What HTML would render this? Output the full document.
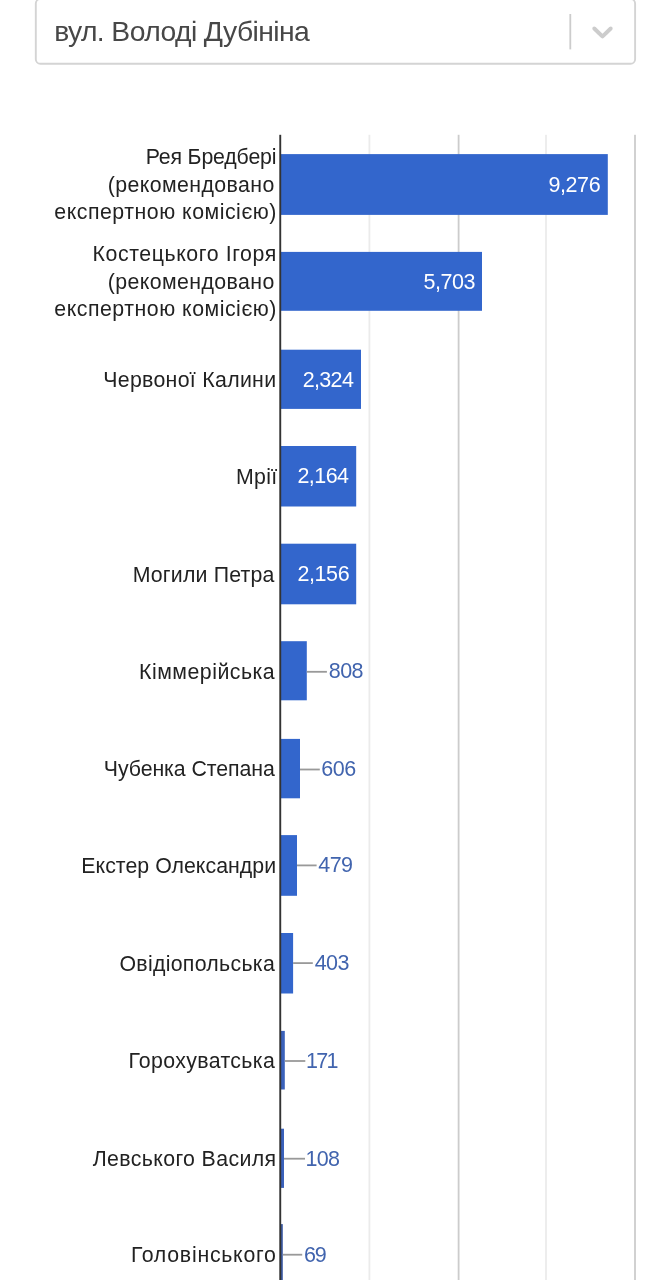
<!DOCTYPE html>
<html lang="uk">
<head>
<meta charset="utf-8">
<meta name="viewport" content="width=device-width, initial-scale=1">
<title>Голосування</title>
<style>
html,body{margin:0;padding:0;background:#fff;}
body{width:658px;height:1280px;position:relative;overflow:hidden;font-family:"Liberation Sans",Arial,sans-serif;}
.t{position:absolute;white-space:nowrap;margin:0;padding:0;}
.selv{font-size:28.3px;line-height:33.96px;color:#474747;}
.ax{font-size:21.3px;line-height:25.56px;color:#222;}
.vi{font-size:21.5px;line-height:25.8px;color:#fff;}
.vo{font-size:21.5px;line-height:25.8px;color:#4164ae;}
.gfx{position:absolute;left:0;top:0;width:658px;height:1280px;display:block;}
</style>
</head>
<body>

<svg class="gfx" width="658" height="1280" viewBox="0 0 658 1280" aria-hidden="true">
<rect x="35.8" y="-1" width="599.3" height="64.75" rx="4.6" ry="4.6" fill="#fff" stroke="#d4d4d4" stroke-width="1.9"/>
<rect x="569.4" y="14" width="1.8" height="35.4" fill="#ccc"/>
<path transform="translate(585 13.9) scale(1.75)" fill="#ccc" d="M4.516 7.548c0.436-0.446 1.043-0.481 1.576 0l3.908 3.747 3.908-3.747c0.533-0.481 1.141-0.446 1.574 0 0.436 0.445 0.408 1.197 0 1.615-0.406 0.418-4.695 4.502-4.695 4.502-0.217 0.223-0.502 0.335-0.787 0.335s-0.570-0.112-0.789-0.335c0 0-4.287-4.084-4.695-4.502s-0.436-1.170 0-1.615z"/>
<rect x="368.50" y="134.8" width="1.8" height="1150" fill="#ebebeb"/>
<rect x="457.70" y="134.8" width="1.8" height="1150" fill="#ccc"/>
<rect x="545.10" y="134.8" width="1.8" height="1150" fill="#ebebeb"/>
<rect x="634.10" y="134.8" width="1.8" height="1150" fill="#ccc"/>
<rect x="280.6" y="154.10" width="327.20" height="60.80" fill="#3366cc"/>
<rect x="280.6" y="251.90" width="201.40" height="58.90" fill="#3366cc"/>
<rect x="280.6" y="349.70" width="80.40" height="59.20" fill="#3366cc"/>
<rect x="280.6" y="446.00" width="75.60" height="60.50" fill="#3366cc"/>
<rect x="280.6" y="543.70" width="75.60" height="60.60" fill="#3366cc"/>
<rect x="280.6" y="641.20" width="26.20" height="59.10" fill="#3366cc"/>
<rect x="306.80" y="670.90" width="20.10" height="1.8" fill="#999"/>
<rect x="280.6" y="738.90" width="19.40" height="59.40" fill="#3366cc"/>
<rect x="300.00" y="768.60" width="19.80" height="1.8" fill="#999"/>
<rect x="280.6" y="835.10" width="16.40" height="60.70" fill="#3366cc"/>
<rect x="297.00" y="864.50" width="19.60" height="1.8" fill="#999"/>
<rect x="280.6" y="933.00" width="12.50" height="60.50" fill="#3366cc"/>
<rect x="293.10" y="962.20" width="19.70" height="1.8" fill="#999"/>
<rect x="280.6" y="1030.90" width="4.20" height="58.60" fill="#3a61bb"/>
<rect x="284.80" y="1060.10" width="20.50" height="1.8" fill="#999"/>
<rect x="280.6" y="1128.70" width="3.40" height="59.20" fill="#3a61bb"/>
<rect x="284.00" y="1157.80" width="21.00" height="1.8" fill="#999"/>
<rect x="280.6" y="1224.10" width="2.20" height="60.40" fill="#3c5aa3"/>
<rect x="282.80" y="1253.80" width="19.40" height="1.8" fill="#999"/>
<rect x="279.3" y="134.8" width="1.9" height="1150" fill="#333"/>
</svg>
<div class="t selv" id="sel" style="left:54.14px;top:15.01px;letter-spacing:-0.586px;">вул. Володі Дубініна</div>
<div class="t ax" id="ax0_0" style="right:381.64px;top:145.01px;letter-spacing:-0.156px;">Рея Бредбері</div>
<div class="t ax" id="ax0_1" style="right:383.22px;top:173.01px;letter-spacing:0.414px;">(рекомендовано</div>
<div class="t ax" id="ax0_2" style="right:381.13px;top:200.01px;letter-spacing:0.522px;">експертною комісією)</div>
<div class="t vi" id="v0" style="right:57.81px;top:173.01px;letter-spacing:-0.416px;">9,276</div>
<div class="t ax" id="ax1_0" style="right:381.21px;top:242.01px;letter-spacing:0.593px;">Костецького Ігоря</div>
<div class="t ax" id="ax1_1" style="right:383.22px;top:270.01px;letter-spacing:0.414px;">(рекомендовано</div>
<div class="t ax" id="ax1_2" style="right:381.13px;top:297.01px;letter-spacing:0.522px;">експертною комісією)</div>
<div class="t vi" id="v1" style="right:183.07px;top:270.01px;letter-spacing:-0.489px;">5,703</div>
<div class="t ax" id="ax2_0" style="right:381.61px;top:368.01px;letter-spacing:0.310px;">Червоної Калини</div>
<div class="t vi" id="v2" style="right:304.85px;top:368.01px;letter-spacing:-0.680px;">2,324</div>
<div class="t ax" id="ax3_0" style="right:380.61px;top:465.01px;letter-spacing:0.290px;">Мрії</div>
<div class="t vi" id="v3" style="right:309.49px;top:464.01px;letter-spacing:-0.539px;">2,164</div>
<div class="t ax" id="ax4_0" style="right:383.39px;top:563.01px;letter-spacing:0.196px;">Могили Петра</div>
<div class="t vi" id="v4" style="right:308.82px;top:562.01px;letter-spacing:-0.408px;">2,156</div>
<div class="t ax" id="ax5_0" style="right:382.78px;top:660.01px;letter-spacing:0.504px;">Кіммерійська</div>
<div class="t vo" id="v5" style="left:328.81px;top:659.01px;letter-spacing:-0.607px;">808</div>
<div class="t ax" id="ax6_0" style="right:383.35px;top:757.01px;letter-spacing:-0.074px;">Чубенка Степана</div>
<div class="t vo" id="v6" style="left:321.25px;top:757.01px;letter-spacing:-0.462px;">606</div>
<div class="t ax" id="ax7_0" style="right:381.88px;top:854.01px;letter-spacing:0.041px;">Екстер Олександри</div>
<div class="t vo" id="v7" style="left:318.37px;top:853.01px;letter-spacing:-0.585px;">479</div>
<div class="t ax" id="ax8_0" style="right:382.98px;top:952.01px;letter-spacing:0.295px;">Овідіопольська</div>
<div class="t vo" id="v8" style="left:314.82px;top:951.01px;letter-spacing:-0.676px;">403</div>
<div class="t ax" id="ax9_0" style="right:382.89px;top:1049.01px;letter-spacing:0.362px;">Горохуватська</div>
<div class="t vo" id="v9" style="left:305.95px;top:1049.01px;letter-spacing:-1.689px;">171</div>
<div class="t ax" id="ax10_0" style="right:381.53px;top:1147.01px;letter-spacing:0.383px;">Левського Василя</div>
<div class="t vo" id="v10" style="left:305.42px;top:1147.01px;letter-spacing:-0.654px;">108</div>
<div class="t ax" id="ax11_0" style="right:381.38px;top:1243.01px;letter-spacing:0.740px;">Головінського</div>
<div class="t vo" id="v11" style="left:303.93px;top:1243.01px;letter-spacing:-1.059px;">69</div>
</body>
</html>
